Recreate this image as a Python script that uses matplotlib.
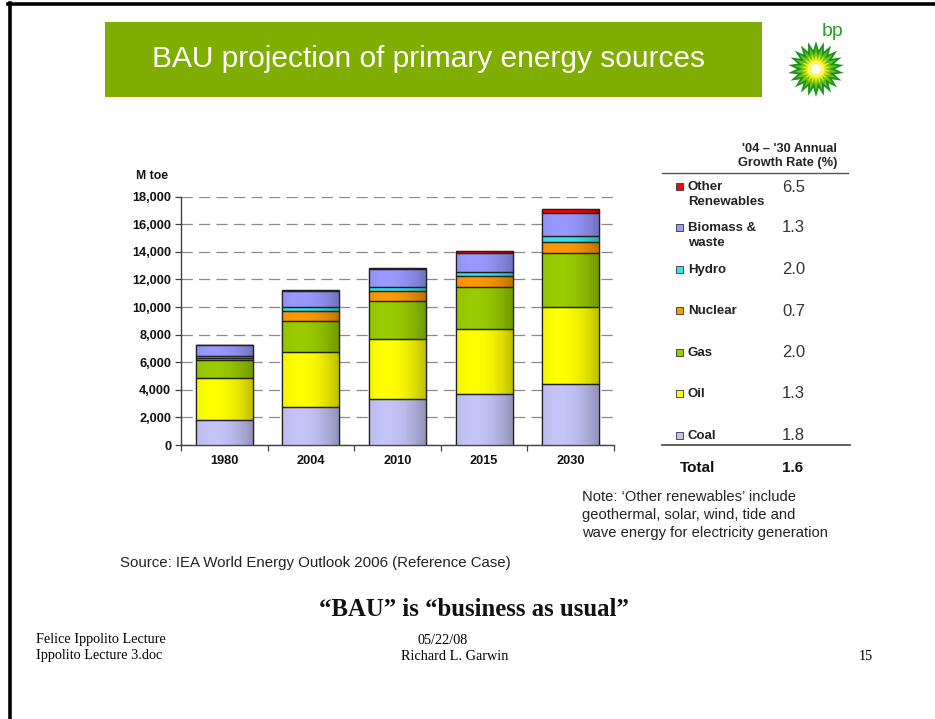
import numpy as np
import matplotlib
matplotlib.use("Agg")
import matplotlib.pyplot as plt
from matplotlib.patches import Rectangle, Polygon
from matplotlib.colors import to_rgb
from matplotlib.ticker import FuncFormatter, FixedLocator

# donnees (Mtoe, scenario de reference)
years = ["1980", "2004", "2010", "2015", "2030"]
coal = [1785, 2773, 3354, 3666, 4441]
oil = [3107, 3940, 4366, 4750, 5575]
gas = [1237, 2302, 2686, 3017, 3869]
nuclear = [186, 714, 775, 810, 861]
hydro = [147, 242, 280, 317, 408]
biomass = [753, 1176, 1283, 1375, 1645]
other_ren = [12, 57, 99, 136, 296]

legend_labels = ["Other\nRenewables", "Biomass &\nwaste", "Hydro", "Nuclear", "Gas", "Oil", "Coal"]
growth_rates = ["6.5", "1.3", "2.0", "0.7", "2.0", "1.3", "1.8"]
total_rate = "1.6"

series = [coal, oil, gas, nuclear, hydro, biomass, other_ren]
colors = ["#C4C4F8", "#FFFF00", "#99CC00", "#FF9900", "#33E6E6", "#9999FF", "#FF0000"]
legend_colors = colors[::-1]

SANS = "Liberation Sans"
SERIF = "Liberation Serif"

W, H = 935, 719
fig = plt.figure(figsize=(W / 100, H / 100), dpi=100)


def fx(x):
    return x / W


def fy(y):
    return 1 - y / H


# cadre de page (bord gauche et haut)
fig.add_artist(plt.Line2D([fx(9.5), fx(9.5)], [0, fy(3)], color="black", lw=2.6,
                          transform=fig.transFigure))
fig.add_artist(plt.Line2D([fx(8.2), 1], [fy(3.5), fy(3.5)], color="black", lw=2.6,
                          transform=fig.transFigure))

# bandeau de titre
fig.add_artist(Rectangle((fx(105), fy(97)), fx(762) - fx(105), fy(22) - fy(97),
                         transform=fig.transFigure, color="#80AE00", lw=0))
fig.text(fx(429), fy(59), "BAU projection of primary energy sources", color="white",
         fontsize=21.5, family=SANS, ha="center", va="center")

# logo bp (approximation)
cx0, cy0 = 816, 69
n_pts = 22
ang = np.linspace(0, 2 * np.pi, 2 * n_pts, endpoint=False) + np.pi / 2
for r_out, r_in, col in ((28, 19, "#169416"), (22, 14, "#6DBE1E"), (15, 9.5, "#DDEF00")):
    rr = np.where(np.arange(2 * n_pts) % 2 == 0, r_out, r_in)
    pts = [(fx(cx0 + r * np.cos(a)), fy(cy0 - r * np.sin(a))) for r, a in zip(rr, ang)]
    fig.add_artist(Polygon(pts, closed=True, transform=fig.transFigure, color=col, lw=0))
for r, col in ((8.5, "#FFF36A"), (5, "#FFFFF0")):
    fig.add_artist(Polygon([(fx(cx0 + r * np.cos(a)), fy(cy0 - r * np.sin(a)))
                            for a in np.linspace(0, 2 * np.pi, 40)],
                           transform=fig.transFigure, color=col, lw=0))
fig.text(fx(833), fy(32), "bp", color="#2AA02A", fontsize=14, family=SANS,
         ha="center", va="center")

# graphique en barres empilees
ax = fig.add_axes([fx(181), fy(445), fx(614) - fx(181), fy(196.7) - fy(445)])
xpos = np.arange(len(years))
bottom = np.zeros(len(years))
bar_w = 0.66
for vals, col in zip(series, colors):
    bars = ax.bar(xpos, vals, bottom=bottom, width=bar_w, color=col,
                  edgecolor="#202020", linewidth=0.9, zorder=3)
    base = np.array(to_rgb(col))
    t = np.linspace(0, 1, 64)
    shade = 1.0 - 0.55 * (t - 0.3) ** 2
    grad = np.clip(base[None, :] * shade[:, None], 0, 1)[None, :, :]
    for b in bars:
        im = ax.imshow(grad, extent=(b.get_x(), b.get_x() + b.get_width(),
                                     b.get_y(), b.get_y() + b.get_height()),
                       aspect="auto", zorder=3.5, interpolation="bilinear")
        im.set_clip_path(b)
        ax.add_patch(Rectangle((b.get_x(), b.get_y()), b.get_width(), b.get_height(),
                               fill=False, edgecolor="#202020", lw=0.9, zorder=4))
    bottom += np.array(vals)

ax.set_xlim(-0.5, len(years) - 0.5)
ax.set_ylim(0, 18000)
ax.set_yticks(np.arange(0, 18001, 2000))
ax.yaxis.set_major_formatter(FuncFormatter(lambda v, p: f"{int(v):,}"))
ax.grid(axis="y", color="#8A8A8A", linestyle=(0, (9, 5)), linewidth=0.9, zorder=0)
ax.set_xticks(xpos)
ax.set_xticklabels(years)
ax.xaxis.set_minor_locator(FixedLocator(np.arange(-0.5, len(years), 1.0)))
ax.tick_params(axis="x", which="major", length=0, pad=7)
ax.tick_params(axis="x", which="minor", length=4, width=0.9, color="#404040")
ax.tick_params(axis="y", length=4, width=0.9, color="#404040", pad=3)
for lab in ax.get_xticklabels() + ax.get_yticklabels():
    lab.set_fontfamily(SANS)
    lab.set_fontweight("bold")
    lab.set_fontsize(9.2)
    lab.set_color("#111111")
for s in ("top", "right"):
    ax.spines[s].set_visible(False)
for s in ("left", "bottom"):
    ax.spines[s].set_color("#404040")
    ax.spines[s].set_linewidth(1.0)
ax.set_facecolor("white")
fig.text(fx(136), fy(176), "M toe", fontsize=8.8, fontweight="bold", family=SANS,
         ha="left", va="center", color="#111111")

# tableau des taux de croissance
fig.text(fx(837), fy(156), "'04 – '30 Annual\nGrowth Rate (%)", fontsize=9.2,
         fontweight="bold", family=SANS, ha="right", va="center", color="#222222",
         linespacing=1.15)
fig.add_artist(plt.Line2D([fx(662), fx(848)], [fy(173), fy(173)], color="#555555", lw=1.0,
                          transform=fig.transFigure))
fig.add_artist(plt.Line2D([fx(662), fx(850)], [fy(445), fy(445)], color="#555555", lw=1.3,
                          transform=fig.transFigure))
row_y = [187, 228, 270, 311, 353, 394, 436]
for lab, rate, col, y in zip(legend_labels, growth_rates, legend_colors, row_y):
    fig.add_artist(Rectangle((fx(676), fy(y + 3)), fx(7), 7 / H, transform=fig.transFigure,
                             facecolor=col, edgecolor="#333333", lw=0.6))
    fig.text(fx(688), fy(y - 6), lab, fontsize=9.5, fontweight="bold", family=SANS,
             ha="left", va="top", color="#222222", linespacing=1.35)
    fig.text(fx(782), fy(y), rate, fontsize=12, family=SANS, ha="left", va="center",
             color="#333333")
fig.text(fx(680), fy(468), "Total", fontsize=11, fontweight="bold", family=SANS,
         ha="left", va="center", color="#111111")
fig.text(fx(782), fy(468), total_rate, fontsize=11, fontweight="bold", family=SANS,
         ha="left", va="center", color="#111111")

# notes et source
fig.text(fx(582), fy(515), "Note: ‘Other renewables’ include\ngeothermal, solar, wind, tide and\n"
         "wave energy for electricity generation", fontsize=10.6, family=SANS,
         ha="left", va="center", color="#222222", linespacing=1.4)
fig.text(fx(120), fy(563), "Source: IEA World Energy Outlook 2006 (Reference Case)",
         fontsize=10.8, family=SANS, ha="left", va="center", color="#222222")

fig.text(fx(474), fy(609), "“BAU” is “business as usual”", fontsize=17.8, fontweight="bold",
         family=SERIF, ha="center", va="center", color="#111111")

# pied de page
fig.text(fx(36), fy(640), "Felice Ippolito Lecture", fontsize=10.3, family=SERIF,
         ha="left", va="center")
fig.text(fx(36), fy(656), "Ippolito Lecture 3.doc", fontsize=10.3, family=SERIF,
         ha="left", va="center")
fig.text(fx(443), fy(640), "05/22/08", fontsize=10.3, family=SERIF, ha="center", va="center")
fig.text(fx(455), fy(656), "Richard L. Garwin", fontsize=10.3, family=SERIF, ha="center",
         va="center")
fig.text(fx(866), fy(656), "15", fontsize=10.3, family=SERIF, ha="center", va="center")

fig.savefig("out.png", dpi=100, facecolor="white")
